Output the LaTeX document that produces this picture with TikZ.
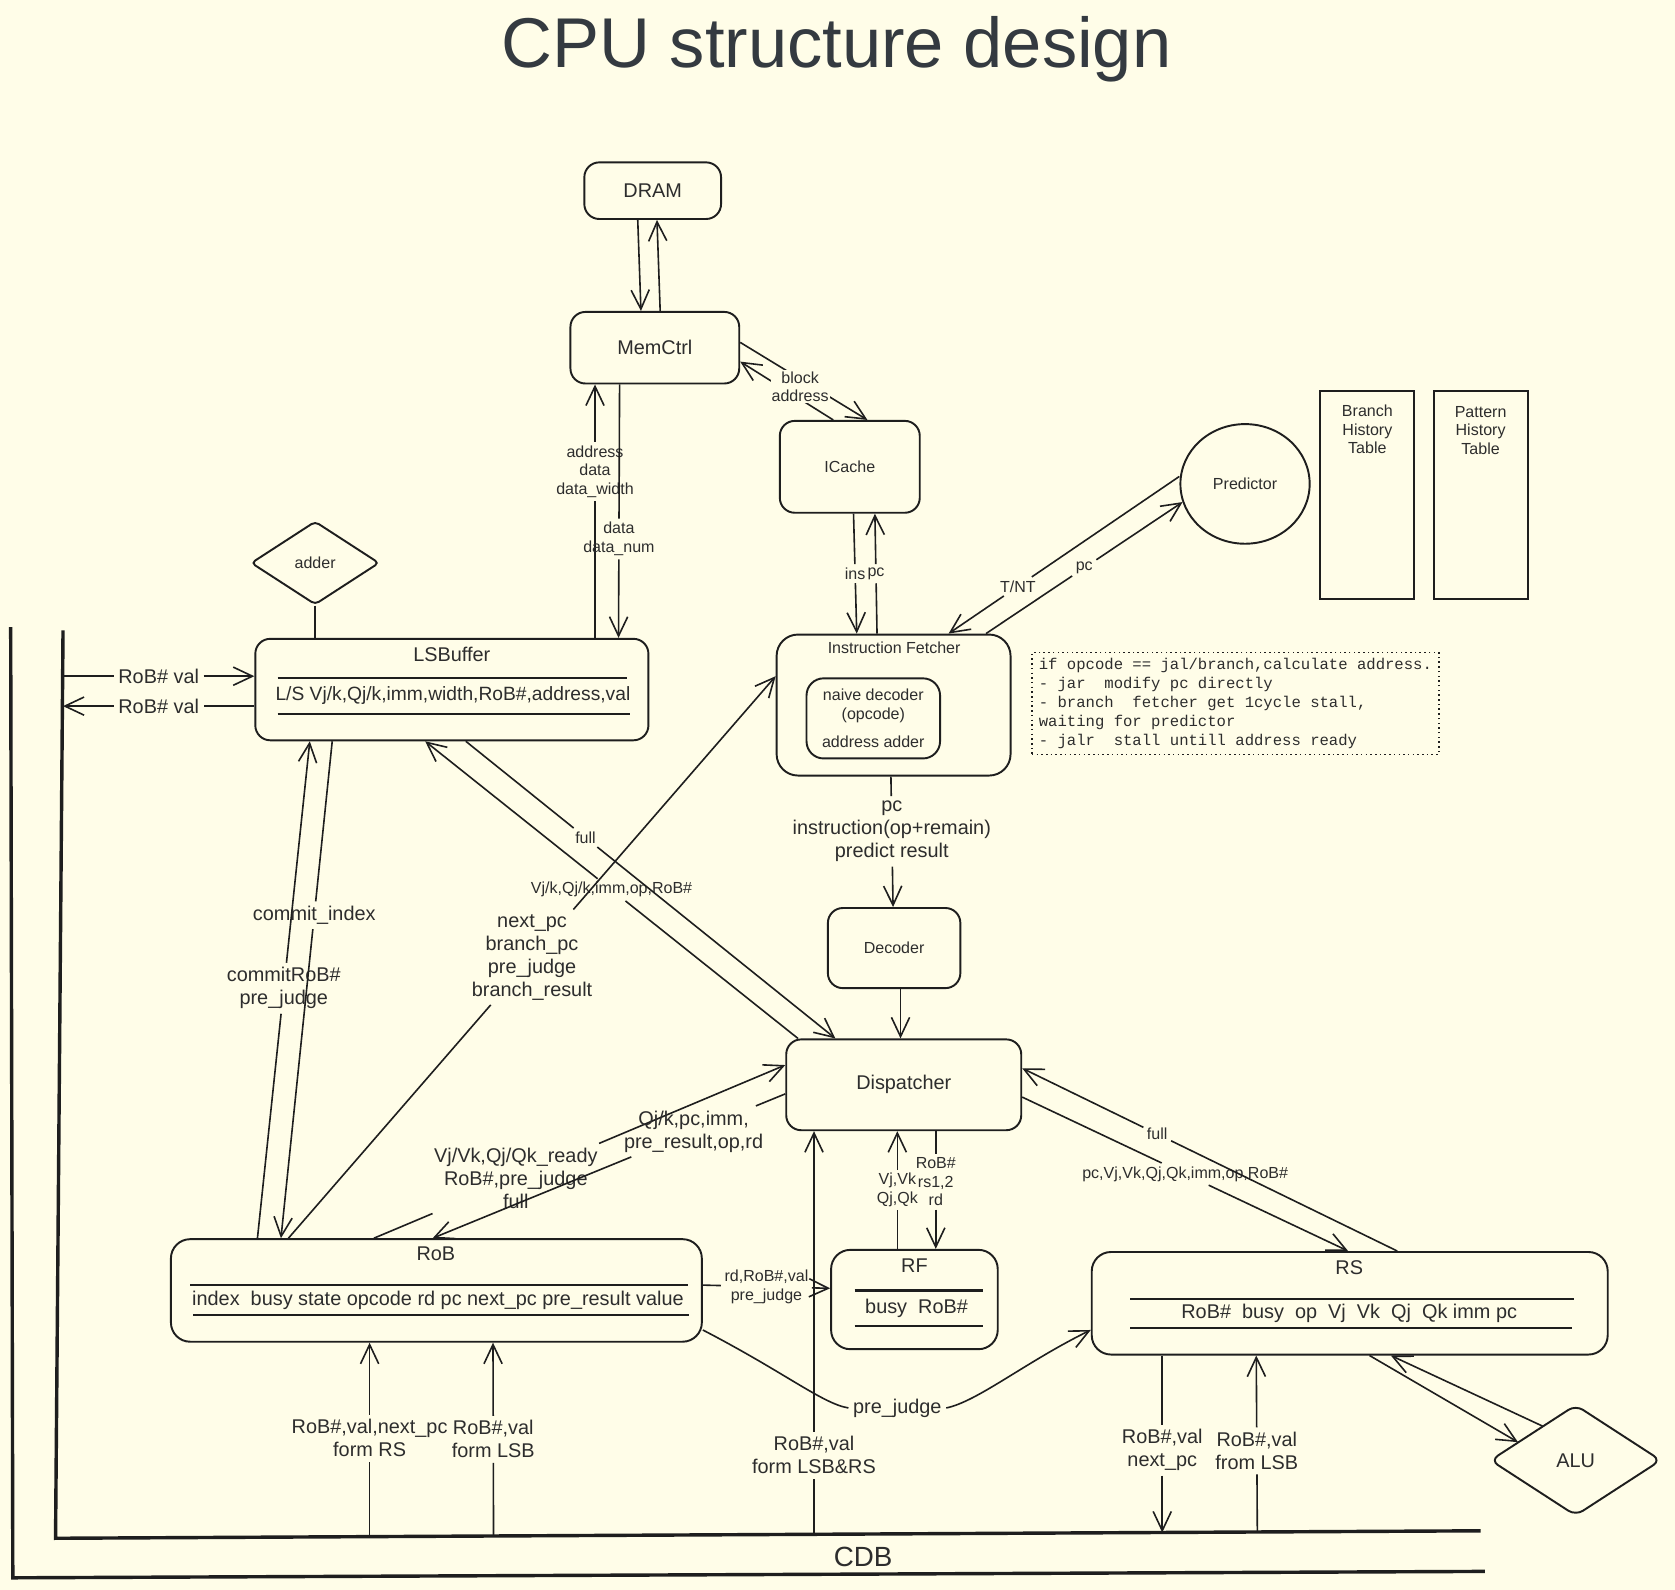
\documentclass[tikz,border=0pt]{standalone}
\usepackage{fontspec}
\setmainfont{Liberation Sans}
\newfontfamily\monof{Liberation Mono}
\usetikzlibrary{arrows.meta,shapes.geometric,calc}
\definecolor{bg}{RGB}{255,253,232}
\definecolor{ln}{RGB}{30,30,30}
\definecolor{tx}{RGB}{45,45,45}
\definecolor{ttl}{RGB}{52,58,64}
\newcommand\myMd{\fontsize{9.3}{10.8}\selectfont}
\newcommand\mySm{\fontsize{7.5}{8.7}\selectfont}
\newcommand\lconn[6]{%
  \path #1 -- #2 node[#4,pos=#3] (#5) {#6};
  \draw[wire] #1 -- (#5);
  \draw[wire,arr] (#5) -- #2;
}
\begin{document}
\begin{tikzpicture}[x=0.5pt,y=-0.5pt,
  box/.style={draw=ln, line width=0.9pt, rounded corners=7pt, fill=bg, inner sep=0pt, text=tx, font=\mySm},
  wire/.style={draw=ln, line width=0.75pt},
  arr/.style={-{Straight Barb[length=9pt,width=8.5pt]}},
  sep/.style={draw=ln, line width=1pt},
  bus/.style={draw=ln, line width=1.6pt},
  mtxt/.style={font=\myMd, text=tx, inner sep=0pt, align=center},
  stxt/.style={font=\mySm, text=tx, inner sep=0pt, align=center},
  ml/.style={font=\myMd, text=tx, inner sep=2pt, align=center},
  sl/.style={font=\mySm, text=tx, inner sep=1.5pt, align=center},
  dia/.style={draw=ln, line width=0.9pt, diamond, fill=bg, inner sep=0pt, text=tx}
]
\useasboundingbox (0,0) rectangle (1568,1488);
\fill[bg] (0,0) rectangle (1568,1488);

% title
\node[font=\fontsize{33}{36}\selectfont, text=ttl] (title) at (783,46) {CPU structure design};

% boxes
\node[box, minimum width=64pt, minimum height=26.5pt, font=\myMd] (DRAM) at (611,178.5) {DRAM};
\node[box, minimum width=79pt, minimum height=33.5pt, font=\myMd] (MemCtrl) at (613,325.5) {MemCtrl};
\node[box, minimum width=65.5pt, minimum height=43pt] (ICache) at (795.5,437) {ICache};
\node[draw=ln, line width=0.9pt, ellipse, fill=bg, minimum width=60.5pt, minimum height=56pt, inner sep=0pt, font=\mySm, text=tx] (Pred) at (1165.5,453) {Predictor};
\node[draw=ln, line width=0.9pt, minimum width=44pt, minimum height=97.5pt, inner sep=0pt] (BHT) at (1280,463.5) {};
\node[stxt] (BHTt) at (1280,402) {Branch\\History\\Table};
\node[draw=ln, line width=0.9pt, minimum width=44pt, minimum height=97.5pt, inner sep=0pt] (PHT) at (1386,463.5) {};
\node[stxt] (PHTt) at (1386,403) {Pattern\\History\\Table};

\node[box, rounded corners=10pt, minimum width=109.5pt, minimum height=66pt] (IF) at (836.5,660) {};
\node[stxt] (IFt) at (837,606) {Instruction Fetcher};
\node[box, rounded corners=8pt, minimum width=62.5pt, minimum height=37.5pt, align=center] (ND) at (817.5,672.5) {naive decoder\\(opcode)\\[4.5pt]address adder};

\node[draw=ln, line width=0.6pt, dash pattern=on 0.7pt off 1.5pt, minimum width=190.5pt, minimum height=47.5pt, inner sep=2pt, align=left, font=\monof\fontsize{7.3}{9}\selectfont, text=tx] (Note) at (1156.5,658.5) {if opcode == jal/branch,calculate address.\\- jar~ modify pc directly\\- branch~ fetcher get 1cycle stall,\\waiting for predictor\\- jalr~ stall untill address ready};

\node[box, minimum width=184pt, minimum height=47.5pt] (LSB) at (423,645.5) {};
\node[mtxt] (LSBt) at (423,613) {LSBuffer};
\node[mtxt, font=\fontsize{9}{10.5}\selectfont] (LSBr) at (424,651) {L/S Vj/k,Qj/k,imm,width,RoB\#,address,val};
\draw[sep] (260,635) -- (587,635);
\draw[sep] (260,668) -- (590,668);

\node[dia, rounded corners=2pt, minimum width=60pt, minimum height=39pt, font=\mySm] (adder) at (295,527) {adder};

\node[box, minimum width=62pt, minimum height=37.5pt] (Dec) at (837,887.5) {Decoder};
\node[box, minimum width=110pt, minimum height=42.5pt, font=\myMd] (Disp) at (846,1015.5) {Dispatcher};

\node[box, rounded corners=9pt, minimum width=248.5pt, minimum height=48pt] (RoB) at (408.5,1208) {};
\node[mtxt] (RoBt) at (408,1174) {RoB};
\node[mtxt] (RoBr) at (410,1217) {index~ busy state opcode rd pc next\_pc pre\_result value};
\draw[sep] (178,1203) -- (644,1203);
\draw[sep] (181,1231) -- (645,1231);

\node[box, rounded corners=9pt, minimum width=78pt, minimum height=46.5pt] (RF) at (856,1216.5) {};
\node[mtxt] (RFt) at (856,1185) {RF};
\node[mtxt] (RFr) at (858,1225) {busy~ RoB\#};
\draw[sep] (800,1208) -- (920,1208);
\draw[sep] (800,1241) -- (920,1241);

\node[box, rounded corners=9pt, minimum width=241.5pt, minimum height=48pt] (RS) at (1263.5,1220) {};
\node[mtxt] (RSt) at (1263,1187) {RS};
\node[mtxt] (RSr) at (1263,1229) {RoB\#~ busy~ op~ Vj~ Vk~ Qj~ Qk imm pc};
\draw[sep] (1058,1216) -- (1473,1216);
\draw[sep] (1058,1243) -- (1472,1243);

\node[dia, rounded corners=4pt, minimum width=80pt, minimum height=52pt, font=\myMd] (ALU) at (1475,1367) {ALU};

% CDB
\draw[bus] (59,590) -- (52,1440) -- (1386,1433);
\draw[bus] (10,587) -- (12,1477) -- (1390,1471);
\node[font=\fontsize{13}{15}\selectfont, text=tx] (CDBt) at (808,1457) {CDB};
\coordinate (b1) at (59,633);
\coordinate (b2) at (59,661);
\coordinate (c1) at (346,1438.5);
\coordinate (c2) at (462,1437.8);
\coordinate (c3) at (762,1436.3);
\coordinate (c4) at (1088,1434.6);
\coordinate (c5) at (1177,1434.1);

% DRAM / MemCtrl / ICache
\draw[wire,arr] ($(DRAM.south)+(-14,0)$) -- ($(MemCtrl.north)+(-13,0)$);
\draw[wire,arr] ($(MemCtrl.north)+(5,0)$) -- ($(DRAM.south)+(4,0)$);
\draw[wire,arr] ($(MemCtrl.east)+(0,-5)$) -- ($(ICache.north)+(16.5,0)$);
\draw[wire,arr] ($(ICache.north)+(-15.5,0)$) -- ($(MemCtrl.east)+(0,13)$);
\node[sl, fill=bg, inner sep=0.5pt] (BA) at (749,362) {block\\address};

% ICache / IF / Predictor
\lconn{($(ICache.south)+(3.5,0)$)}{($(IF.north)+(-34.5,0)$)}{0.5}{sl}{Lins}{ins}
\lconn{($(IF.north)+(-15.5,0)$)}{($(ICache.south)+(23.5,0)$)}{0.5}{sl}{Lpca}{pc}
\lconn{($(Pred.center)+(-61.5,-7)$)}{($(IF.north)+(51.5,0)$)}{0.7}{sl}{Ltnt}{T/NT}
\lconn{($(IF.north)+(86.5,0)$)}{($(Pred.center)+(-58.5,17)$)}{0.5}{sl}{Lpcb}{pc}

% IF -> Decoder -> Dispatcher
\lconn{($(IF.south)+(-2.5,0)$)}{($(Dec.north)+(-1,0)$)}{0.42}{ml}{Lifd}{pc\\instruction(op+remain)\\predict result}
\draw[wire,arr] ($(Dec.south)+(6,0)$) -- ($(Disp.north)+(-3,0)$);

% MemCtrl / LSBuffer
\lconn{($(LSB.north)+(134,0)$)}{($(MemCtrl.south)+(-56,0)$)}{0.657}{sl}{Laddr}{address\\data\\data\_width}
\lconn{($(MemCtrl.south)+(-33,0)$)}{($(LSB.north)+(156,0)$)}{0.61}{sl}{Ldata}{data\\data\_num}
\draw[wire] (adder.south) -- ($(LSB.north)+(-128,0)$);

% LSBuffer / bus
\lconn{(b1)}{($(LSB.west)+(0,-12.5)$)}{0.5}{ml}{Lrv1}{RoB\# val}
\lconn{($(LSB.west)+(0,15.5)$)}{(b2)}{0.5}{ml}{Lrv2}{RoB\# val}

% LSBuffer / RoB
\lconn{($(RoB.north)+(-167.5,0)$)}{($(LSB.south)+(-133,0)$)}{0.503}{ml}{Lcr}{commitRoB\#\\pre\_judge}
\lconn{($(LSB.south)+(-112,0)$)}{($(RoB.north)+(-145.5,0)$)}{0.35}{ml}{Lci}{commit\_index}

% LSBuffer / Dispatcher
\lconn{($(Disp.north)+(-99,0)$)}{($(LSB.south)+(-25,0)$)}{0.5}{sl}{Lvjk}{Vj/k,Qj/k,imm,op,RoB\#}
\lconn{($(LSB.south)+(13,0)$)}{($(Disp.north)+(-64,0)$)}{0.324}{sl}{Lfa}{full}

% RoB -> IF
\lconn{($(RoB.north)+(-138.5,0)$)}{($(IF.west)+(0,-27)$)}{0.5}{ml}{Lnpc}{next\_pc\\branch\_pc\\pre\_judge\\branch\_result}

% RoB / Dispatcher
\lconn{($(RoB.north)+(-58.5,0)$)}{($(Disp.west)+(0,-18.5)$)}{0.345}{ml}{Lvvq}{Vj/Vk,Qj/Qk\_ready\\RoB\#,pre\_judge\\full}
\lconn{($(Disp.west)+(0,8.5)$)}{($(RoB.north)+(-3.5,0)$)}{0.26}{ml}{Lqjk}{Qj/k,pc,imm,\\pre\_result,op,rd}

% Dispatcher / RF
\lconn{($(Disp.south)+(30,0)$)}{($(RF.north)+(20,0)$)}{0.43}{sl}{Lrs}{RoB\#\\rs1,2\\rd}
\lconn{($(RF.north)+(-16,0)$)}{($(Disp.south)+(-6,0)$)}{0.5}{sl}{Lvq}{Vj,Vk\\Qj,Qk}

% RoB -> RF
\lconn{($(RoB.east)+(0,-5)$)}{($(RF.west)+(0,-10.5)$)}{0.5}{sl}{Lrd}{rd,RoB\#,val\\pre\_judge}

% RoB -> RS (pre_judge)
\node[ml] (Lpj) at (840,1318) {pre\_judge};
\draw[wire] ($(RoB.east)+(0,37)$) .. controls (735,1285) and (770,1314) .. (Lpj.west);
\draw[wire,arr] (Lpj.east) .. controls (915,1312) and (960,1275) .. ($(RS.west)+(0,25)$);

% Dispatcher / RS
\lconn{($(Disp.east)+(0,11.5)$)}{($(RS.north)+(-1.5,0)$)}{0.5}{sl}{Lpcv}{pc,Vj,Vk,Qj,Qk,imm,op,RoB\#}
\lconn{($(RS.north)+(44.5,0)$)}{($(Disp.east)+(0,-15.5)$)}{0.64}{sl}{Lfb}{full}

% RS / ALU
\draw[wire,arr] ($(RS.south)+(18.5,0)$) -- ($(ALU.center)+(-54,-17)$);
\draw[wire,arr] ($(ALU.center)+(-31,-32)$) -- ($(RS.south)+(38.5,0)$);

% bus connections
\lconn{(c1)}{($(RoB.south)+(-62.5,0)$)}{0.507}{ml}{Lba}{RoB\#,val,next\_pc\\form RS}
\lconn{(c2)}{($(RoB.south)+(53,0)$)}{0.5}{ml}{Lbb}{RoB\#,val\\form LSB}
\lconn{(c3)}{($(Disp.south)+(-84,0)$)}{0.196}{ml}{Lbc}{RoB\#,val\\form LSB\&RS}
\lconn{($(RS.south)+(-175.5,0)$)}{(c4)}{0.534}{ml}{Lbd}{RoB\#,val\\next\_pc}
\lconn{(c5)}{($(RS.south)+(-87.5,0)$)}{0.46}{ml}{Lbe}{RoB\#,val\\from LSB}
\end{tikzpicture}
\end{document}
